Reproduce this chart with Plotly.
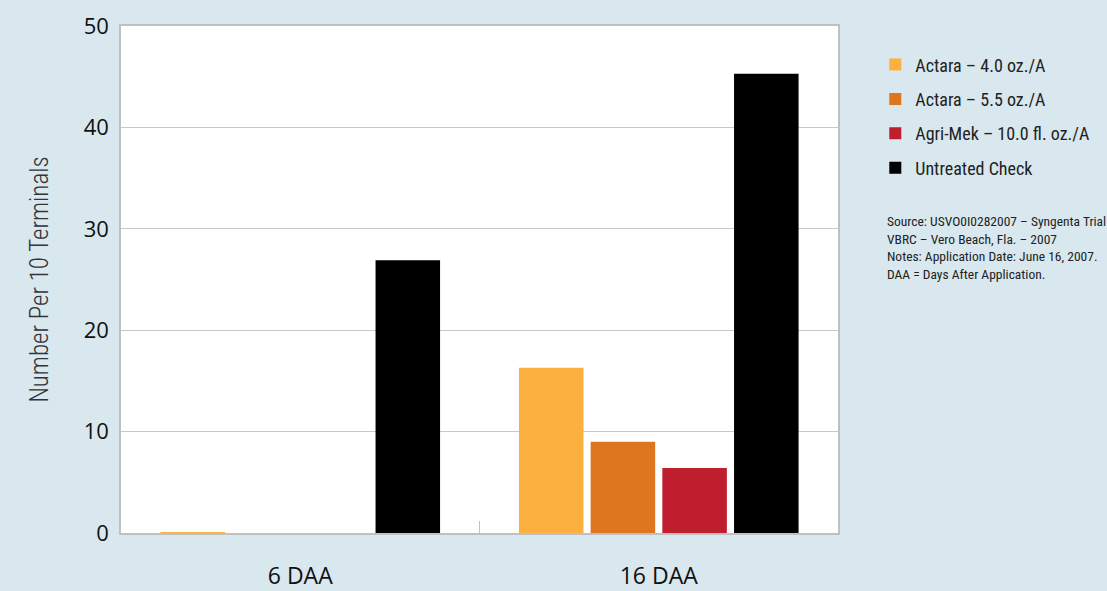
import plotly.graph_objects as go

categories = ["6 DAA", "16 DAA"]
series_names = ["Actara – 4.0 oz./A", "Actara – 5.5 oz./A", "Agri-Mek – 10.0 fl. oz./A", "Untreated Check"]
series_values = [
    [0.06, 16.3],
    [0.0, 9.0],
    [0.0, 6.4],
    [26.9, 45.3],
]
colors = ["#fbb040", "#dd761c", "#be1e2d", "#000000"]
y_ticks = [0, 10, 20, 30, 40, 50]
source_lines = [
    "Source: USVO0I0282007 – Syngenta Trial",
    "VBRC – Vero Beach, Fla. – 2007",
    "Notes: Application Date: June 16, 2007.",
    "DAA = Days After Application.",
]

FONT = "Open Sans"
NARROW = "Liberation Sans Narrow, Roboto Condensed, Roboto, sans-serif"

fig = go.Figure()
for name, vals, col in zip(series_names, series_values, colors):
    fig.add_trace(go.Bar(
        x=categories, y=vals, name=name, marker=dict(color=col, line=dict(width=0)),
        legendgroup=name,
    ))

fig.update_layout(
    width=1107, height=591,
    barmode="group", bargap=0.2, bargroupgap=0.1,
    paper_bgcolor="#d8e8ee", plot_bgcolor="#ffffff",
    margin=dict(l=121, r=269, t=26, b=58),
    font=dict(family=FONT, color="#222222"),
    showlegend=True,
    legend=dict(
        x=1.052, y=0.96, xanchor="left", yanchor="top",
        bgcolor="rgba(0,0,0,0)", font=dict(size=18, color="#222222", family=NARROW),
        tracegroupgap=8, traceorder="grouped", itemwidth=30,
    ),
    xaxis=dict(
        type="category", showline=True, linecolor="#c0c0c0", linewidth=1.5,
        ticks="inside", tickson="boundaries", ticklen=12, tickcolor="#c0c0c0",
        tickfont=dict(size=23, color="#111111"), mirror=True, ticklabelstandoff=22,
        showgrid=False, automargin=False,
    ),
    yaxis=dict(
        range=[0, 50], tickvals=y_ticks, showgrid=True, gridcolor="#c8c8c8", gridwidth=1,
        showline=True, linecolor="#c0c0c0", linewidth=1.5, mirror=True,
        tickfont=dict(size=22, color="#111111"), ticks="", ticklabelstandoff=6,
        title=dict(text="Number Per 10 Terminals",
                   font=dict(size=25, color="#333333", family=NARROW, weight=300), standoff=28),
        zeroline=False, automargin=False,
    ),
)

fig.add_annotation(
    text="<br>".join(source_lines), xref="paper", yref="paper",
    x=1.066, y=0.635, xanchor="left", yanchor="top", align="left", showarrow=False,
    font=dict(size=13.5, color="#222222", family=NARROW),
)

fig.write_html(
    "out.html",
    config={"displayModeBar": False},
    post_script="document.body.style.margin='0';document.body.style.padding='0';document.body.style.overflow='hidden';",
)
